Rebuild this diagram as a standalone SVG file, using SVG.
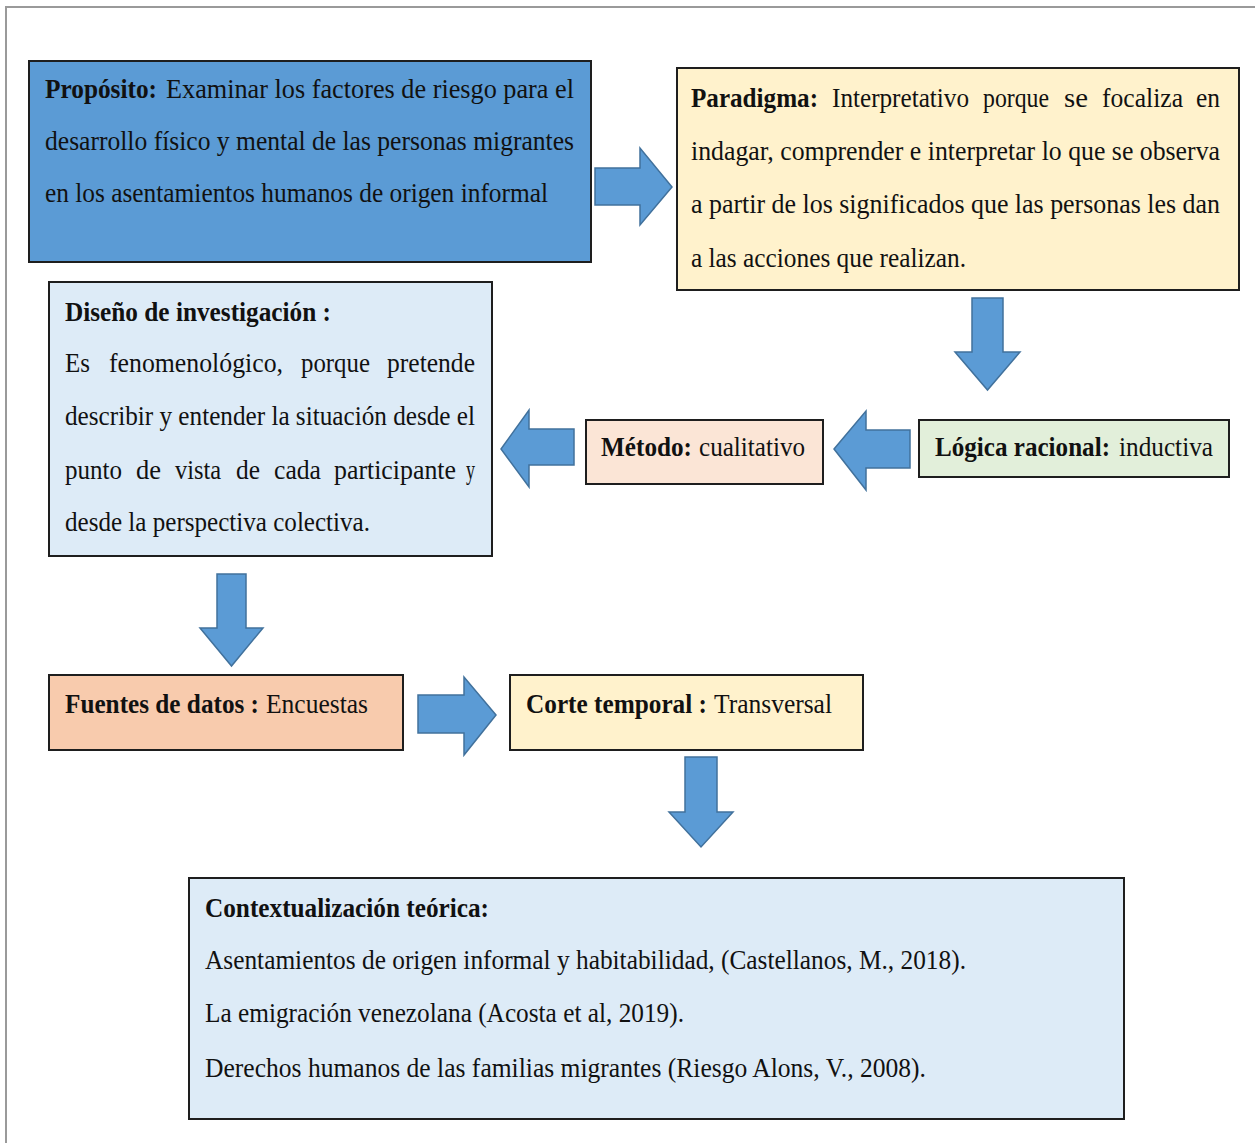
<svg xmlns="http://www.w3.org/2000/svg" width="1255" height="1143" viewBox="0 0 1255 1143">
<style>
  .box{stroke:#1e1e1e;stroke-width:2}
  .arrow{fill:#5B9BD5;stroke:#41719C;stroke-width:1.5;stroke-linejoin:miter}
  text{font-family:"Liberation Serif","Times New Roman",serif;font-size:27px;fill:#111}
  .b{font-weight:bold}
</style>
<rect width="1255" height="1143" fill="#ffffff"/>
<path d="M6,1143 V7 H1255" fill="none" stroke="#9a9a9a" stroke-width="2"/>

<g id="connectors">
  <path class="arrow" d="M595,168 H640 V148 L672,187 L640,225 V205 H595 Z"/>
  <path class="arrow" d="M972,298 H1003 V352 H1020 L987.5,390 L955,352 H972 Z"/>
  <path class="arrow" d="M910,430 H866 V411 L834,449 L866,490 V468 H910 Z"/>
  <path class="arrow" d="M574,429 H529 V410 L501,449 L529,487 V465 H574 Z"/>
  <path class="arrow" d="M217,574 H246 V628 H263 L231.5,666 L200,628 H217 Z"/>
  <path class="arrow" d="M418,695 H464 V677 L496,715 L464,755 V733 H418 Z"/>
  <path class="arrow" d="M685,757 H717 V812 H733 L701,847 L669,812 H685 Z"/>
</g>

<g id="proposito">
  <rect class="box" x="29" y="61" width="562" height="201" fill="#5B9BD5"/>
  <text class="b" x="45" y="98" textLength="112" lengthAdjust="spacingAndGlyphs">Propósito:</text>
  <text x="166" y="98" textLength="408" lengthAdjust="spacingAndGlyphs">Examinar los factores de riesgo para el</text>
  <text x="45" y="150" textLength="529" lengthAdjust="spacingAndGlyphs">desarrollo físico y mental de las personas migrantes</text>
  <text x="45" y="202" textLength="503" lengthAdjust="spacingAndGlyphs">en los asentamientos humanos de origen informal</text>
</g>

<g id="paradigma">
  <rect class="box" x="677" y="68" width="562" height="222" fill="#FFF2CC"/>
  <text class="b" x="691" y="107" textLength="127" lengthAdjust="spacingAndGlyphs">Paradigma:</text>
  <text x="832" y="107" textLength="137" lengthAdjust="spacingAndGlyphs">Interpretativo</text>
  <text x="983" y="107" textLength="66" lengthAdjust="spacingAndGlyphs">porque</text>
  <text x="1064" y="107" textLength="24" lengthAdjust="spacingAndGlyphs">se</text>
  <text x="1102" y="107" textLength="81" lengthAdjust="spacingAndGlyphs">focaliza</text>
  <text x="1196" y="107" textLength="24" lengthAdjust="spacingAndGlyphs">en</text>
  <text x="691" y="160" textLength="529" lengthAdjust="spacingAndGlyphs">indagar, comprender e interpretar lo que se observa</text>
  <text x="691" y="213" textLength="529" lengthAdjust="spacingAndGlyphs">a partir de los significados que las personas les dan</text>
  <text x="691" y="267" textLength="275" lengthAdjust="spacingAndGlyphs">a las acciones que realizan.</text>
</g>

<g id="logica">
  <rect class="box" x="919" y="420" width="310" height="57" fill="#E2EFDA"/>
  <text class="b" x="935" y="456" textLength="175" lengthAdjust="spacingAndGlyphs">Lógica racional:</text>
  <text x="1119" y="456" textLength="94" lengthAdjust="spacingAndGlyphs">inductiva</text>
</g>

<g id="metodo">
  <rect class="box" x="586" y="420" width="237" height="64" fill="#FBE5D6"/>
  <text class="b" x="601" y="456" textLength="91" lengthAdjust="spacingAndGlyphs">Método:</text>
  <text x="699" y="456" textLength="106" lengthAdjust="spacingAndGlyphs">cualitativo</text>
</g>

<g id="diseno">
  <rect class="box" x="49" y="282" width="443" height="274" fill="#DDEBF7"/>
  <text class="b" x="65" y="321" textLength="266" lengthAdjust="spacingAndGlyphs">Diseño de investigación :</text>
  <text x="65" y="372" textLength="25" lengthAdjust="spacingAndGlyphs">Es</text>
  <text x="109" y="372" textLength="174" lengthAdjust="spacingAndGlyphs">fenomenológico,</text>
  <text x="301" y="372" textLength="69" lengthAdjust="spacingAndGlyphs">porque</text>
  <text x="387" y="372" textLength="88" lengthAdjust="spacingAndGlyphs">pretende</text>
  <text x="65" y="425" textLength="410" lengthAdjust="spacingAndGlyphs">describir y entender la situación desde el</text>
  <text x="65" y="479" textLength="57" lengthAdjust="spacingAndGlyphs">punto</text>
  <text x="136" y="479" textLength="25" lengthAdjust="spacingAndGlyphs">de</text>
  <text x="175" y="479" textLength="46" lengthAdjust="spacingAndGlyphs">vista</text>
  <text x="236" y="479" textLength="24" lengthAdjust="spacingAndGlyphs">de</text>
  <text x="274" y="479" textLength="47" lengthAdjust="spacingAndGlyphs">cada</text>
  <text x="334" y="479" textLength="122" lengthAdjust="spacingAndGlyphs">participante</text>
  <text x="466" y="479" textLength="9" lengthAdjust="spacingAndGlyphs">y</text>
  <text x="65" y="531" textLength="305" lengthAdjust="spacingAndGlyphs">desde la perspectiva colectiva.</text>
</g>

<g id="fuentes">
  <rect class="box" x="49" y="675" width="354" height="75" fill="#F8CBAD"/>
  <text class="b" x="65" y="713" textLength="194" lengthAdjust="spacingAndGlyphs">Fuentes de datos :</text>
  <text x="266" y="713" textLength="102" lengthAdjust="spacingAndGlyphs">Encuestas</text>
</g>

<g id="corte">
  <rect class="box" x="510" y="675" width="353" height="75" fill="#FFF2CC"/>
  <text class="b" x="526" y="713" textLength="181" lengthAdjust="spacingAndGlyphs">Corte temporal :</text>
  <text x="714" y="713" textLength="118" lengthAdjust="spacingAndGlyphs">Transversal</text>
</g>

<g id="contextualizacion">
  <rect class="box" x="189" y="878" width="935" height="241" fill="#DDEBF7"/>
  <text class="b" x="205" y="917" textLength="284" lengthAdjust="spacingAndGlyphs">Contextualización teórica:</text>
  <text x="205" y="969" textLength="761" lengthAdjust="spacingAndGlyphs">Asentamientos de origen informal y habitabilidad, (Castellanos, M., 2018).</text>
  <text x="205" y="1022" textLength="479" lengthAdjust="spacingAndGlyphs">La emigración venezolana (Acosta et al, 2019).</text>
  <text x="205" y="1077" textLength="721" lengthAdjust="spacingAndGlyphs">Derechos humanos de las familias migrantes (Riesgo Alons, V., 2008).</text>
</g>
</svg>
